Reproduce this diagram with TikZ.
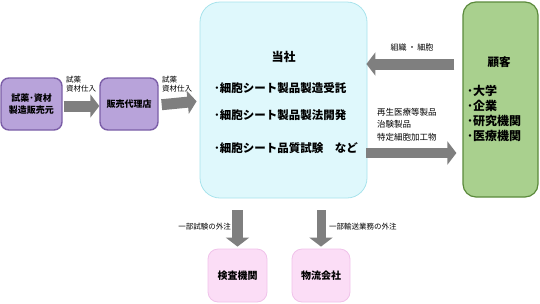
\documentclass[tikz,border=0pt]{standalone}
\usepackage{fontspec}
\setmainfont{Noto Sans CJK JP}
\usetikzlibrary{arrows.meta}
\definecolor{purfill}{HTML}{B8A3DA}
\definecolor{purline}{HTML}{7B5EA7}
\definecolor{grnfill}{HTML}{A9D08E}
\definecolor{grnline}{HTML}{5B8A3C}
\definecolor{cyfill}{HTML}{DFF8FC}
\definecolor{cyline}{HTML}{A8E3EC}
\definecolor{pkfill}{HTML}{FBDDF6}
\definecolor{pkline}{HTML}{F0C2EA}
\definecolor{arrgray}{HTML}{7F7F7F}
\tikzset{
  purbox/.style={draw=purline, fill=purfill, line width=1.4pt, rounded corners=8pt, inner sep=0pt, align=center, font=\fontsize{9}{12}\selectfont\bfseries},
  mainbox/.style={draw=cyline, fill=cyfill, line width=0.8pt, rounded corners=20pt, inner sep=0pt},
  grnbox/.style={draw=grnline, fill=grnfill, line width=1.2pt, rounded corners=13pt, inner sep=0pt},
  pkbox/.style={draw=pkline, fill=pkfill, line width=0.8pt, rounded corners=10pt, inner sep=0pt, font=\fontsize{10}{12}\selectfont\bfseries},
  blockarrow/.style={draw=arrgray, line width=11pt, -{Triangle[width=23pt,length=9pt]}},
  lbl/.style={inner sep=0pt, font=\fontsize{7.5}{9.5}\selectfont, align=left},
  maintxt/.style={inner sep=0pt, font=\fontsize{11.5}{13}\selectfont\bfseries},
  grntxt/.style={inner sep=0pt, font=\fontsize{12}{15}\selectfont\bfseries, align=left},
}
\begin{document}
\begin{tikzpicture}[x=1pt,y=-1pt]
\useasboundingbox (0,0) rectangle (540,303);
% boxes
\node[purbox, minimum width=61pt, minimum height=52pt] (b1) at (31.5,104) {試薬･資材\\製造販売元};
\node[purbox, minimum width=58pt, minimum height=52pt] (b2) at (129,104) {販売代理店};
\node[mainbox, minimum width=167pt, minimum height=196pt] (main) at (283.5,100) {};
\node[grnbox, minimum width=75pt, minimum height=195pt] (cust) at (500.5,99.5) {};
\node[pkbox, minimum width=59pt, minimum height=53pt] (k1) at (237.5,275.5) {検査機関};
\node[pkbox, minimum width=58pt, minimum height=53pt] (k2) at (321,275.5) {物流会社};
% main texts
\node[maintxt, font=\fontsize{12}{13}\selectfont\bfseries] (t0) at (283.5,57) {当社};
\node[maintxt, anchor=west] (t1) at (214,88) {･細胞シート製品製造受託};
\node[maintxt, anchor=west] (t2) at (214,115) {･細胞シート製品製法開発};
\node[maintxt, anchor=west] (t3) at (214,148) {･細胞シート品質試験　など};
% customer texts
\node[maintxt] (c0) at (499,62) {顧客};
\node[grntxt, anchor=north west] (c1) at (467,85) {･大学\\･企業\\･研究機関\\･医療機関};
% coordinates
\coordinate (yA) at (0,64);
\coordinate (yB) at (0,153);
% arrows
\draw[blockarrow, shorten <=1pt] ([yshift=-2pt]b1.east) -- ([yshift=-2pt]b2.west);
\draw[blockarrow, shorten <=3pt, shorten >=3pt] ([yshift=-1pt]b2.east) -- ([yshift=-1pt]main.west);
\draw[blockarrow, shorten <=8pt, shorten >=-1pt] (cust.west |- yA) -- (main.east |- yA);
\draw[blockarrow, line width=10pt, shorten <=-1pt, shorten >=6pt] (main.east |- yB) -- (cust.west |- yB);
\draw[blockarrow, shorten <=12pt, shorten >=2pt] (main.south -| k1.north) -- (k1.north);
\draw[blockarrow, line width=9pt, shorten <=12pt, shorten >=2pt] (main.south -| k2.north) -- (k2.north);
% labels
\node[lbl, anchor=west] (l1) at (66,84) {試薬\\資材仕入};
\node[lbl, anchor=west] (l2) at (162,84) {試薬\\資材仕入};
\node[lbl, font=\fontsize{8}{10}\selectfont] (l3) at (412,47) {組織\,・\,細胞};
\node[lbl, anchor=north west, font=\fontsize{8.5}{12.5}\selectfont] (l4) at (377,108) {再生医療等製品\\治験製品\\特定細胞加工物};
\node[lbl, anchor=east] (l5) at (231,227) {一部試験の外注};
\node[lbl, anchor=west] (l6) at (329,227) {一部輸送業務の外注};
\end{tikzpicture}
\end{document}
